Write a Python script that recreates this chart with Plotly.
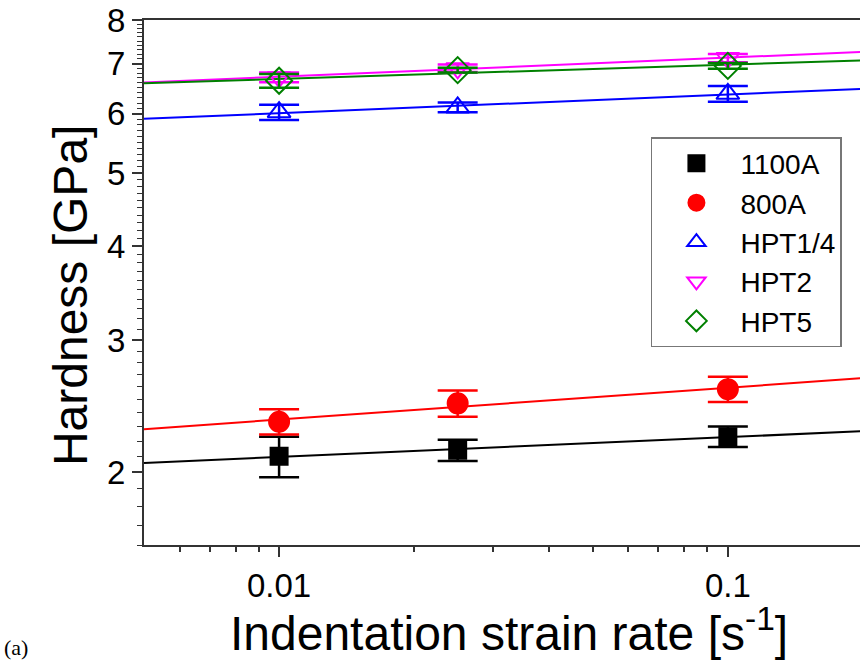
import numpy as np
import plotly.graph_objects as go

# ---- data ----
strain_rate = [0.01, 0.025, 0.1]
series_names = ["1100A", "800A", "HPT1/4", "HPT2", "HPT5"]
h_1100A = [2.10, 2.14, 2.23]
e_1100A = [0.13, 0.07, 0.07]
h_800A = [2.335, 2.47, 2.58]
e_800A = [0.09, 0.10, 0.10]
h_HPT14 = [6.03, 6.12, 6.38]
e_HPT14 = [0.14, 0.09, 0.155]
h_HPT2 = [6.71, 6.90, 7.12]
e_HPT2 = [0.10, 0.08, 0.09]
h_HPT5 = [6.64, 6.86, 6.95]
e_HPT5 = [0.14, 0.05, 0.06]

fit_x_span = [0.005, 0.3]
y_major = [2, 3, 4, 5, 6, 7, 8]
x_major = [0.01, 0.1]
x_major_text = ["0.01", "0.1"]

values = [h_1100A, h_800A, h_HPT14, h_HPT2, h_HPT5]
errors = [e_1100A, e_800A, e_HPT14, e_HPT2, e_HPT5]
colors = ["#000000", "#ff0000", "#0000ff", "#ff00ff", "#008000"]
symbols = ["square", "circle", "triangle-up-open", "triangle-down-open", "diamond-open"]
sizes = [17, 20, 20, 20, 20]

FONT = "Liberation Sans, Arial, sans-serif"

fig = go.Figure()

# fit lines (power-law, straight in log-log)
xx = np.array(fit_x_span)
for v, c in zip(values, colors):
    k, b = np.polyfit(np.log10(strain_rate), np.log10(v), 1)
    fig.add_trace(go.Scatter(x=xx, y=10 ** (b + k * np.log10(xx)), mode="lines",
                             line=dict(color=c, width=2), showlegend=False,
                             hoverinfo="skip"))

for i, (n, v, e, c, s, sz) in enumerate(zip(series_names, values, errors, colors, symbols, sizes)):
    fig.add_trace(go.Scatter(
        x=strain_rate, y=v, mode="markers", name=n,
        marker=dict(symbol=s, size=sz, color=c, line=dict(color=c, width=2)),
        error_y=dict(type="data", array=e, visible=True, color=c, thickness=2.5, width=20),
    ))

minor_x = [0.006, 0.007, 0.008, 0.009] + [round(0.01 * k, 3) for k in range(2, 10)]
minor_y = [round(0.1 * k, 1) for k in range(16, 80) if k % 10 != 0]

fig.update_layout(
    width=860, height=662,
    margin=dict(l=144, r=0, t=20, b=117),
    paper_bgcolor="white", plot_bgcolor="white",
    font=dict(family=FONT, color="black"),
    showlegend=True,
    legend=dict(x=0.708, y=0.777, xanchor="left", yanchor="top",
                bordercolor="#777777", borderwidth=1.5, bgcolor="white",
                font=dict(size=28, family=FONT),
                itemwidth=78),
    xaxis=dict(type="log", range=[np.log10(0.005), np.log10(0.197)],
               showgrid=False, zeroline=False,
               showline=True, linecolor="#333333", linewidth=2, mirror=True,
               ticks="outside", ticklen=10, tickwidth=1.5, tickcolor="#333333",
               tickmode="array", tickvals=x_major, ticktext=x_major_text,
               tickfont=dict(size=33, family=FONT), ticklabelstandoff=0,
               minor=dict(tickmode="array", tickvals=minor_x, ticks="outside",
                          ticklen=5, tickwidth=1.5, tickcolor="#333333")),
    yaxis=dict(type="log", range=[np.log10(1.6), np.log10(8)],
               showgrid=False, zeroline=False,
               showline=True, linecolor="#333333", linewidth=2, mirror=False,
               ticks="outside", ticklen=10, tickwidth=1.5, tickcolor="#333333",
               tickmode="array", tickvals=y_major, ticktext=[str(t) for t in y_major],
               tickfont=dict(size=33, family=FONT), ticklabelstandoff=0,
               minor=dict(tickmode="array", tickvals=minor_y, ticks="outside",
                          ticklen=5, tickwidth=1, tickcolor="#333333")),
    annotations=[
        dict(text="Hardness [GPa]", xref="paper", yref="paper", x=-0.1034, y=0.476,
             textangle=-90, showarrow=False, font=dict(size=48, family=FONT),
             xanchor="center", yanchor="middle"),
        dict(text="Indentation strain rate [s<sup>-1</sup>]", xref="paper", yref="paper",
             x=0.51, y=-0.162, showarrow=False, font=dict(size=48, family=FONT),
             xanchor="center", yanchor="middle"),
        dict(text="(a)", xref="paper", yref="paper", x=-0.179, y=-0.196,
             showarrow=False, font=dict(size=22, family="Liberation Serif, Times New Roman, serif"),
             xanchor="center", yanchor="middle"),
    ],
)

fig.write_html("out.html")
